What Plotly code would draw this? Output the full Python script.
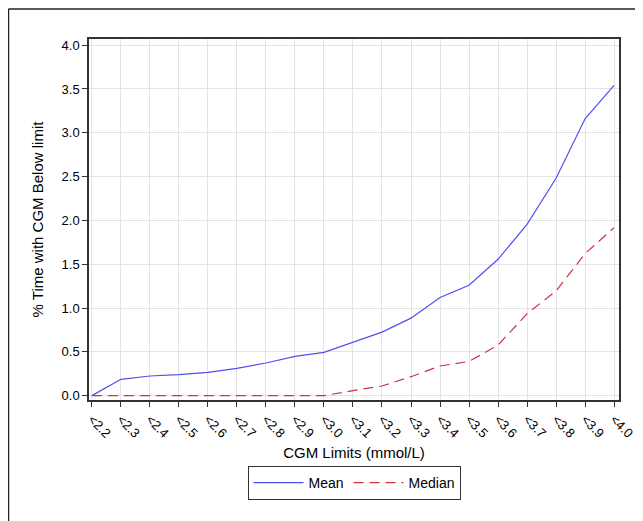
import plotly.graph_objects as go

categories = ["<2.2", "<2.3", "<2.4", "<2.5", "<2.6", "<2.7", "<2.8", "<2.9", "<3.0", "<3.1",
              "<3.2", "<3.3", "<3.4", "<3.5", "<3.6", "<3.7", "<3.8", "<3.9", "<4.0"]
mean_vals = [0.0, 0.186, 0.224, 0.239, 0.266, 0.311, 0.372, 0.448, 0.493, 0.607,
             0.725, 0.884, 1.12, 1.26, 1.556, 1.954, 2.48, 3.16, 3.54]
median_vals = [0.0, 0.0, 0.0, 0.0, 0.0, 0.0, 0.0, 0.0, 0.0, 0.057,
               0.11, 0.216, 0.338, 0.39, 0.577, 0.934, 1.195, 1.62, 1.917]
y_ticks = [0.0, 0.5, 1.0, 1.5, 2.0, 2.5, 3.0, 3.5, 4.0]

xs = list(range(len(categories)))
tick_text = [c.replace("<", "&lt;") for c in categories]

fig = go.Figure()
fig.add_trace(go.Scatter(x=xs, y=mean_vals, mode="lines", name="Mean",
                         line=dict(color="#5050f0", width=1.2)))
fig.add_trace(go.Scatter(x=xs, y=median_vals, mode="lines", name="Median",
                         line=dict(color="#cc3344", width=1.2, dash="10px,6px")))

font = dict(family="Liberation Sans, Arial, sans-serif", size=13, color="#000000")

fig.update_layout(
    width=635, height=513,
    margin=dict(l=81, r=24, t=31, b=121, autoexpand=False),
    paper_bgcolor="white", plot_bgcolor="white",
    font=font,
    showlegend=True,
    legend=dict(orientation="h", x=0.5, xanchor="center", y=-0.183, yanchor="top",
                bordercolor="#333333", borderwidth=1, font=dict(size=14),
                itemwidth=50, tracegroupgap=0),
    xaxis=dict(
        tickmode="array", tickvals=xs, ticktext=tick_text, tickangle=45,
        tickfont=dict(size=13),
        range=[-0.1, 18.17], showgrid=True, gridcolor="#e3e3e3", gridwidth=1,
        showline=True, linecolor="#333333", linewidth=1.5, mirror=True,
        ticks="outside", ticklen=5, tickcolor="#333333", zeroline=False,
        title=dict(text="CGM Limits (mmol/L)", standoff=8, font=dict(size=15)),
    ),
    yaxis=dict(
        tickmode="array", tickvals=y_ticks, ticktext=[f"{v:.1f}" for v in y_ticks],
        tickfont=dict(size=13),
        range=[-0.05, 4.07], showgrid=True, gridcolor="#e3e3e3", gridwidth=1,
        showline=True, linecolor="#333333", linewidth=1.5, mirror=True,
        ticks="outside", ticklen=5, tickcolor="#333333", zeroline=False,
        title=dict(text="% Time with CGM Below limit", standoff=14, font=dict(size=15)),
    ),
    shapes=[
        dict(type="line", xref="paper", yref="paper", x0=-0.1519, x1=1.1, y0=1.083, y1=1.083,
             line=dict(color="#222222", width=1.5)),
        dict(type="line", xref="paper", yref="paper", x0=-0.1519, x1=-0.1519, y0=1.083, y1=-0.34,
             line=dict(color="#222222", width=1.5)),
    ],
)

fig.write_html("out.html")
